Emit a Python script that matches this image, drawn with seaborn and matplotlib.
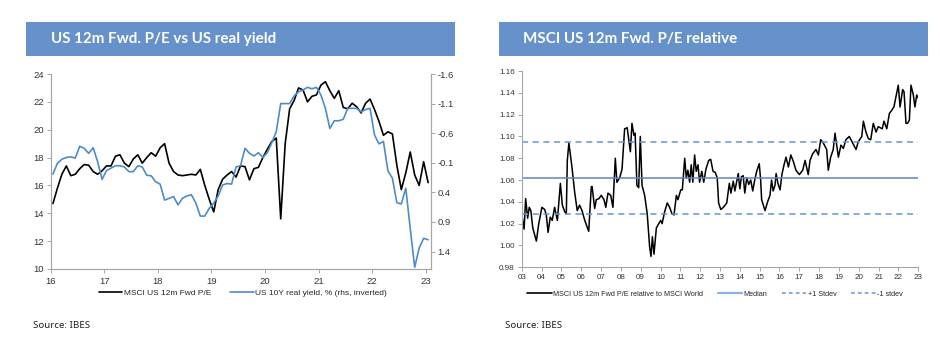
import numpy as np
import matplotlib
matplotlib.use("Agg")
import matplotlib.pyplot as plt
from matplotlib import font_manager
from matplotlib.lines import Line2D
from matplotlib.patches import Rectangle
import seaborn as sns

# ---------------- data ----------------
# US 12m forward P/E, monthly Jan 2016 - Jan 2023
pe_fwd = [14.7, 15.8, 16.8, 17.4, 16.7, 16.8, 17.2, 17.5, 17.45, 17.0, 16.8, 17.05,
          17.4, 17.4, 18.1, 18.2, 17.6, 17.35, 17.9, 18.2, 17.6, 18.0, 18.35, 18.1,
          18.7, 19.0, 17.6, 17.0, 16.75, 16.7, 16.75, 16.8, 16.75, 17.15, 16.0, 15.0,
          14.1, 15.7, 16.45, 16.75, 17.0, 16.6, 17.4, 17.35, 16.4, 17.2, 17.3, 18.0,
          18.6, 19.15, 19.4, 13.6, 19.0, 21.5, 22.1, 23.0, 22.85, 22.0, 22.4, 22.5,
          23.2, 23.45, 22.8, 22.25, 22.8, 21.6, 21.5, 21.9, 21.65, 21.2, 21.9, 22.2,
          21.45, 20.6, 19.6, 19.85, 19.7, 17.45, 15.7, 16.9, 18.4, 16.75, 16.0, 17.7,
          16.2]
# US 10Y real yield (%), same months
real_yield = [0.09, -0.09, -0.16, -0.19, -0.20, -0.18, -0.38, -0.345, -0.26, -0.355, -0.12, 0.18,
              0.03, -0.01, -0.05, -0.05, -0.03, 0.05, 0.05, -0.05, -0.03, 0.11, 0.12, 0.22,
              0.26, 0.53, 0.50, 0.47, 0.61, 0.50, 0.46, 0.44, 0.58, 0.80, 0.80, 0.67,
              0.58, 0.46, 0.275, 0.25, 0.26, -0.03, -0.05, -0.345, -0.26, -0.215, -0.27, -0.19,
              -0.27, -0.44, -0.625, -1.10, -1.10, -1.10, -1.23, -1.30, -1.33, -1.375, -1.35, -1.375,
              -1.245, -1.02, -0.68, -0.81, -0.81, -0.835, -1.02, -1.02, -1.02, -0.96, -1.0, -1.02,
              -0.57, -0.42, -0.46, 0.035, 0.16, 0.575, 0.595, 0.33, 1.01, 1.665, 1.34, 1.175,
              1.20]
pe_years = 2016 + (np.arange(len(pe_fwd)) + 0.5) / 12

# MSCI US 12m fwd P/E relative to MSCI World
rel_years = [2003.00, 2003.03, 2003.12, 2003.20, 2003.30, 2003.38, 2003.46, 2003.56, 2003.74, 2003.86,
             2004.02, 2004.16, 2004.24, 2004.33, 2004.44, 2004.54, 2004.66, 2004.80, 2004.95,
             2005.05, 2005.17, 2005.25, 2005.30, 2005.38, 2005.54, 2005.67, 2005.80, 2005.92,
             2006.04, 2006.18, 2006.38, 2006.51, 2006.55, 2006.68, 2006.76, 2006.90,
             2007.01, 2007.15, 2007.24, 2007.35, 2007.49, 2007.60, 2007.72, 2007.80, 2007.94,
             2008.06, 2008.19, 2008.32, 2008.48, 2008.56, 2008.66, 2008.72, 2008.81, 2008.90, 2008.98,
             2009.07, 2009.20, 2009.33, 2009.45, 2009.52, 2009.59, 2009.67, 2009.79, 2009.91,
             2010.01, 2010.08, 2010.21, 2010.34, 2010.46, 2010.58, 2010.68, 2010.80, 2010.88,
             2011.02, 2011.10, 2011.22, 2011.30, 2011.38, 2011.47, 2011.55, 2011.63, 2011.72, 2011.80, 2011.89, 2011.97,
             2012.08, 2012.18, 2012.29, 2012.43, 2012.53, 2012.65, 2012.76, 2012.86, 2012.93,
             2013.04, 2013.17, 2013.34, 2013.47, 2013.55, 2013.67, 2013.75, 2013.92,
             2014.00, 2014.08, 2014.17, 2014.25, 2014.35, 2014.45, 2014.55, 2014.65, 2014.75, 2014.85, 2014.98,
             2015.05, 2015.10, 2015.27, 2015.40, 2015.52, 2015.60, 2015.68, 2015.77, 2015.83, 2015.92,
             2016.03, 2016.12, 2016.23, 2016.33, 2016.45, 2016.57, 2016.70, 2016.83,
             2017.00, 2017.17, 2017.29, 2017.45, 2017.54, 2017.67, 2017.84, 2017.96,
             2018.08, 2018.21, 2018.38, 2018.46, 2018.58, 2018.71, 2018.80, 2018.97,
             2019.10, 2019.22, 2019.35, 2019.52, 2019.69, 2019.86, 2019.97,
             2020.15, 2020.23, 2020.36, 2020.48, 2020.60, 2020.73, 2020.87, 2020.98,
             2021.18, 2021.27, 2021.41, 2021.54, 2021.66, 2021.77, 2021.91, 2021.99,
             2022.08, 2022.21, 2022.28, 2022.38, 2022.46, 2022.55, 2022.63, 2022.75, 2022.83, 2022.92, 2023.00]
rel_values = [1.016, 1.025, 1.015, 1.043, 1.025, 1.035, 1.032, 1.016, 1.004, 1.020,
              1.035, 1.033, 1.028, 1.012, 1.026, 1.023, 1.035, 1.023, 1.057,
              1.037, 1.031, 1.029, 1.078, 1.094, 1.071, 1.049, 1.032, 1.037,
              1.032, 1.023, 1.013, 1.054, 1.054, 1.034, 1.042, 1.043,
              1.046, 1.042, 1.035, 1.048, 1.046, 1.035, 1.080, 1.058, 1.062,
              1.070, 1.107, 1.108, 1.086, 1.112, 1.101, 1.103, 1.055, 1.053, 1.100,
              1.055, 1.046, 1.029, 0.999, 0.990, 1.008, 0.992, 1.016, 1.020,
              1.023, 1.020, 1.031, 1.039, 1.035, 1.029, 1.028, 1.046, 1.042,
              1.051, 1.051, 1.080, 1.062, 1.069, 1.058, 1.074, 1.058, 1.083, 1.068, 1.074, 1.058,
              1.068, 1.058, 1.070, 1.078, 1.079, 1.068, 1.067, 1.062, 1.039,
              1.033, 1.035, 1.039, 1.057, 1.048, 1.059, 1.050, 1.066,
              1.052, 1.063, 1.064, 1.048, 1.062, 1.056, 1.060, 1.050, 1.060, 1.068, 1.075,
              1.060, 1.042, 1.032, 1.040, 1.046, 1.060, 1.050, 1.055, 1.066, 1.057,
              1.051, 1.065, 1.074, 1.081, 1.072, 1.083, 1.077, 1.069,
              1.065, 1.069, 1.078, 1.065, 1.078, 1.084, 1.088, 1.083,
              1.097, 1.094, 1.088, 1.069, 1.081, 1.088, 1.103, 1.081,
              1.092, 1.089, 1.097, 1.100, 1.094, 1.088, 1.095,
              1.100, 1.114, 1.104, 1.098, 1.097, 1.112, 1.104, 1.109,
              1.107, 1.114, 1.107, 1.121, 1.124, 1.127, 1.140, 1.147,
              1.127, 1.143, 1.141, 1.112, 1.112, 1.115, 1.147, 1.138, 1.127, 1.138, 1.135]
rel_median = 1.062
rel_stdev = 0.033

pe_xticks = [2016, 2017, 2018, 2019, 2020, 2021, 2022, 2023]
pe_xlabels = ["16", "17", "18", "19", "20", "21", "22", "23"]
pe_yticks = [10, 12, 14, 16, 18, 20, 22, 24]
ry_ticks = [-1.6, -1.1, -0.6, -0.1, 0.4, 0.9, 1.4]
rel_xticks = list(range(2003, 2024))
rel_xlabels = ["%02d" % (y % 100) for y in rel_xticks]
rel_yticks = [0.98, 1.00, 1.02, 1.04, 1.06, 1.08, 1.10, 1.12, 1.14, 1.16]

legend_left = ["MSCI US 12m Fwd P/E", "US 10Y real yield, % (rhs, inverted)"]
legend_right = ["MSCI US 12m Fwd P/E relative to MSCI World", "Median", "+1 Stdev", "-1 stdev"]
title_left = "US 12m Fwd. P/E vs US real yield"
title_right = "MSCI US 12m Fwd. P/E relative"
source_text = "Source: IBES"

# ---------------- style ----------------
sns.set_theme(style="white")
installed = {f.name for f in font_manager.fontManager.ttflist}
narrow = "Liberation Sans Narrow" if "Liberation Sans Narrow" in installed else "Liberation Sans"
plt.rcParams["font.family"] = [narrow, "DejaVu Sans"]
title_font = "Lato" if "Lato" in installed else "DejaVu Sans"

W, H = 940, 337
fig = plt.figure(figsize=(W / 100, H / 100), dpi=100)
fig.patch.set_facecolor("white")

BAR = "#6691CB"
BLUE = "#4E8CC8"
SPINE = "#A6A6A6"
TXT = "#333333"


def fx(px):
    return px / W


def fy(py):
    return 1 - py / H


# title bars
for x0, x1, text, tx in [(26, 455, title_left, 51), (499, 928, title_right, 523)]:
    fig.patches.append(Rectangle((fx(x0), fy(55.7)), fx(x1 - x0), (55.7 - 22.3) / H,
                                 transform=fig.transFigure, facecolor=BAR, edgecolor="none"))
    fig.text(fx(tx), fy(39), text, color="white", fontsize=10.9, fontweight="bold",
             family=[title_font, "DejaVu Sans"], va="center", ha="left")

# ---------------- left chart ----------------
ax1 = fig.add_axes([fx(50.7), fy(269), fx(380), 195 / H])
sns.lineplot(x=pe_years, y=pe_fwd, ax=ax1, color="black", lw=1.2)
ax1.set_xlim(2016, 2023.09)
ax1.set_ylim(10, 24)
ax1.set_xticks(pe_xticks)
ax1.set_xticklabels(pe_xlabels)
ax1.set_yticks(pe_yticks)
ax2 = ax1.twinx()
sns.lineplot(x=pe_years, y=real_yield, ax=ax2, color=BLUE, lw=1.2)
ax2.set_ylim(1.694, -1.6)
ax2.set_yticks(ry_ticks)
ax2.set_yticklabels(["%.1f" % v for v in ry_ticks])
for a in (ax1, ax2):
    a.set_xlabel("")
    a.set_ylabel("")
    a.grid(False)
    a.spines["top"].set_visible(False)
    for s in ("left", "right", "bottom"):
        a.spines[s].set_color(SPINE)
        a.spines[s].set_linewidth(0.8)
    a.tick_params(axis="both", labelsize=6.8, colors=TXT, length=3, width=0.7,
                  direction="out", pad=2)
    a.tick_params(axis="both", color=SPINE)
ax1.tick_params(axis="y", left=True)
ax2.tick_params(axis="y", right=True)
ax1.tick_params(axis="x", bottom=True, pad=3)

h_left = [Line2D([], [], color="black", lw=1.2), Line2D([], [], color=BLUE, lw=1.2)]
ax1.legend(h_left, legend_left, loc="center", bbox_to_anchor=(fx(243), fy(293)),
           bbox_transform=fig.transFigure, ncol=2, frameon=False, fontsize=6.0,
           handlelength=2.8, handletextpad=0.2, columnspacing=2.3, borderaxespad=0)

# ---------------- right chart ----------------
ax3 = fig.add_axes([fx(521.7), fy(267.3), fx(396.6), 196.3 / H])
sns.lineplot(x=rel_years, y=rel_values, ax=ax3, color="black", lw=1.1, sort=False)
ax3.axhline(rel_median, color="#5B86C0", lw=1.1)
ax3.axhline(rel_median + rel_stdev, color="#6B95CC", lw=1.1, ls=(0, (4, 3)))
ax3.axhline(rel_median - rel_stdev, color="#6B95CC", lw=1.1, ls=(0, (4, 3)))
ax3.set_xlim(2003, 2023)
ax3.set_ylim(0.98, 1.16)
ax3.set_xticks(rel_xticks)
ax3.set_xticklabels(rel_xlabels)
ax3.set_yticks(rel_yticks)
ax3.set_yticklabels(["%.2f" % v for v in rel_yticks])
ax3.set_xlabel("")
ax3.set_ylabel("")
ax3.grid(False)
for s in ("top", "right"):
    ax3.spines[s].set_visible(False)
for s in ("left", "bottom"):
    ax3.spines[s].set_color(SPINE)
    ax3.spines[s].set_linewidth(0.8)
ax3.tick_params(axis="both", labelsize=5.8, colors=TXT, length=3, width=0.7,
                direction="out", pad=2, color=SPINE, left=True, bottom=True)

h_right = [Line2D([], [], color="black", lw=1.2),
           Line2D([], [], color="#8DB3E2", lw=1.6),
           Line2D([], [], color="#6B95CC", lw=1.1, ls=(0, (2.5, 2))),
           Line2D([], [], color="#6B95CC", lw=1.1, ls=(0, (2.5, 2)))]
ax3.legend(h_right, legend_right, loc="center", bbox_to_anchor=(fx(715), fy(294)),
           bbox_transform=fig.transFigure, ncol=4, frameon=False, fontsize=5.2,
           handlelength=3.4, handletextpad=0.2, columnspacing=2.0, borderaxespad=0)

# sources
for tx in (33, 505):
    fig.text(fx(tx), fy(325), source_text, fontsize=7, color="#222222",
             family=["Noto Sans", "DejaVu Sans"], va="center", ha="left")

fig.savefig("out.png", dpi=100, facecolor="white")
